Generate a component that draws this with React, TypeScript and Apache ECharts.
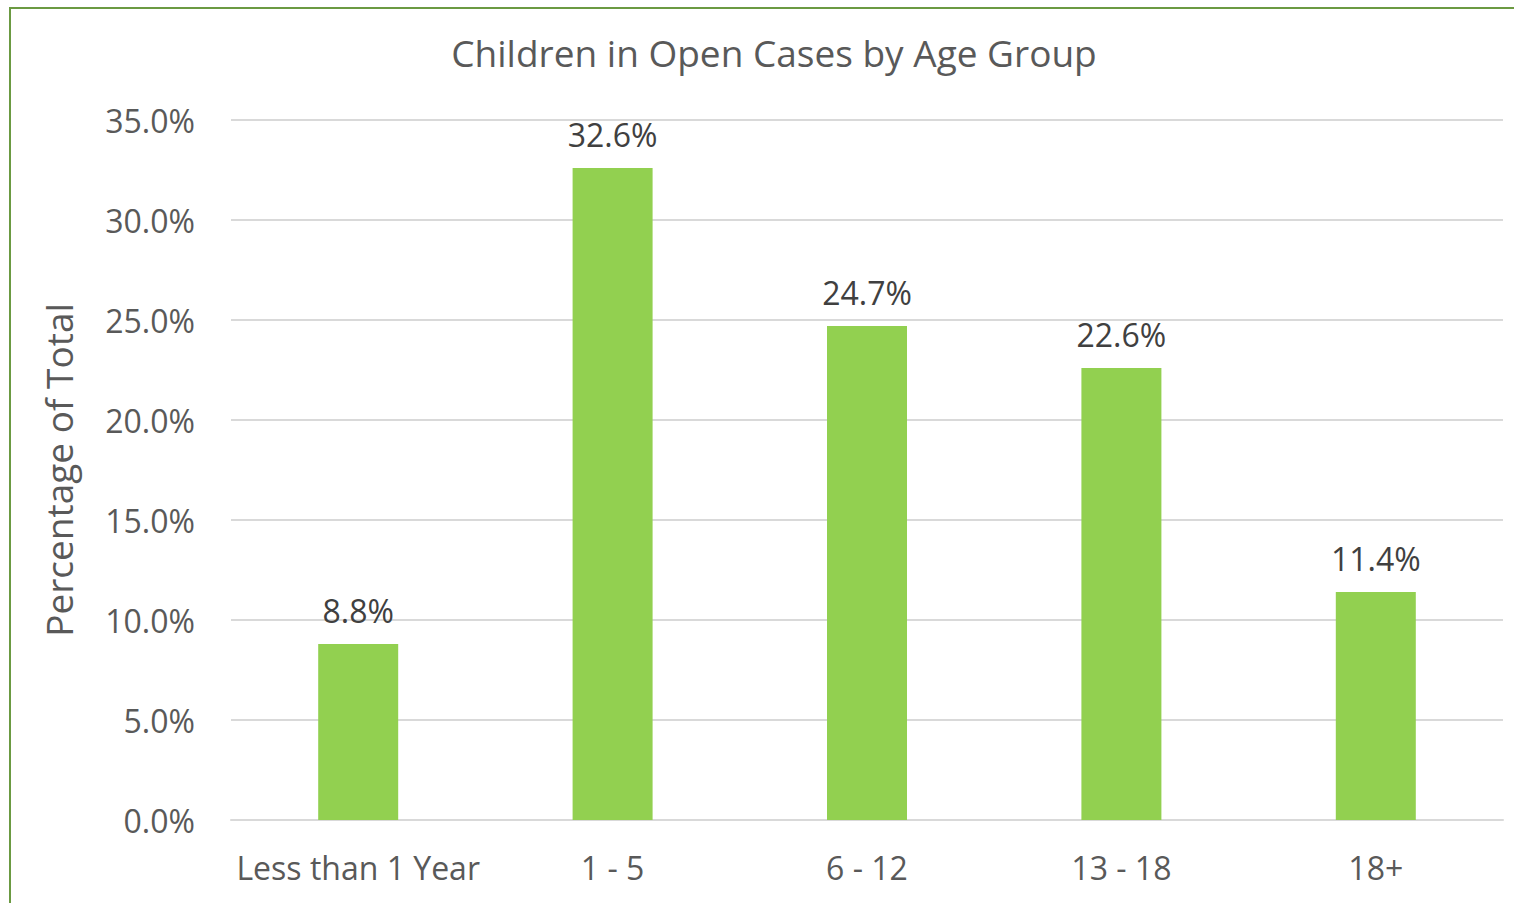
import React, { useEffect, useRef } from "react";
import * as echarts from "echarts";

const categories = ["Less than 1 Year", "1 - 5", "6 - 12", "13 - 18", "18+"];
const values = [8.8, 32.6, 24.7, 22.6, 11.4];
const titleText = "Children in Open Cases by Age Group";
const yAxisName = "Percentage of Total";

export default function App() {
  const ref = useRef<HTMLDivElement>(null);
  useEffect(() => {
    if (!ref.current) return;
    const chart = echarts.init(ref.current, null, { renderer: "svg" });
    const font = "'Open Sans', 'Noto Sans', sans-serif";
    chart.setOption({
      animation: false,
      backgroundColor: "#ffffff",
      textStyle: { fontFamily: font },
      title: {
        text: titleText,
        left: 769,
        top: 29,
        textAlign: "center",
        textStyle: { fontFamily: font, fontSize: 37, fontWeight: "normal", color: "#595959" },
      },
      graphic: [
        {
          type: "rect",
          shape: { x: 10, y: 8, width: 1520, height: 920 },
          style: { fill: "none", stroke: "#6b9a42", lineWidth: 2 },
          silent: true,
        },
      ],
      grid: { left: 231, right: 11, top: 120, bottom: 83, containLabel: false },
      xAxis: {
        type: "category",
        data: categories,
        axisLine: { show: true, lineStyle: { color: "#d9d9d9", width: 2 } },
        axisTick: { show: false },
        axisLabel: { fontFamily: font, fontSize: 32, color: "#595959", margin: 31, interval: 0 },
      },
      yAxis: {
        type: "value",
        min: 0,
        max: 35,
        interval: 5,
        name: yAxisName,
        nameLocation: "middle",
        nameGap: 154,
        nameTextStyle: { fontFamily: font, fontSize: 37, color: "#595959" },
        axisLine: { show: false },
        axisTick: { show: false },
        axisLabel: {
          fontFamily: font,
          fontSize: 32,
          color: "#595959",
          margin: 36,
          padding: [0, 0, 3, 0],
          formatter: (v: number) => v.toFixed(1) + "%",
        },
        splitLine: { lineStyle: { color: "#d9d9d9", width: 2 } },
      },
      series: [
        {
          type: "bar",
          data: values,
          barWidth: 80,
          itemStyle: { color: "#92d050" },
          label: {
            show: true,
            position: "top",
            distance: 18,
            fontFamily: font,
            fontSize: 32,
            color: "#404040",
            formatter: (p: any) => p.value.toFixed(1) + "%",
          },
        },
      ],
    });
    return () => chart.dispose();
  }, []);
  return (
    <div
      ref={ref}
      style={{ position: "fixed", left: 0, top: 0, width: 1514, height: 903 }}
    />
  );
}
